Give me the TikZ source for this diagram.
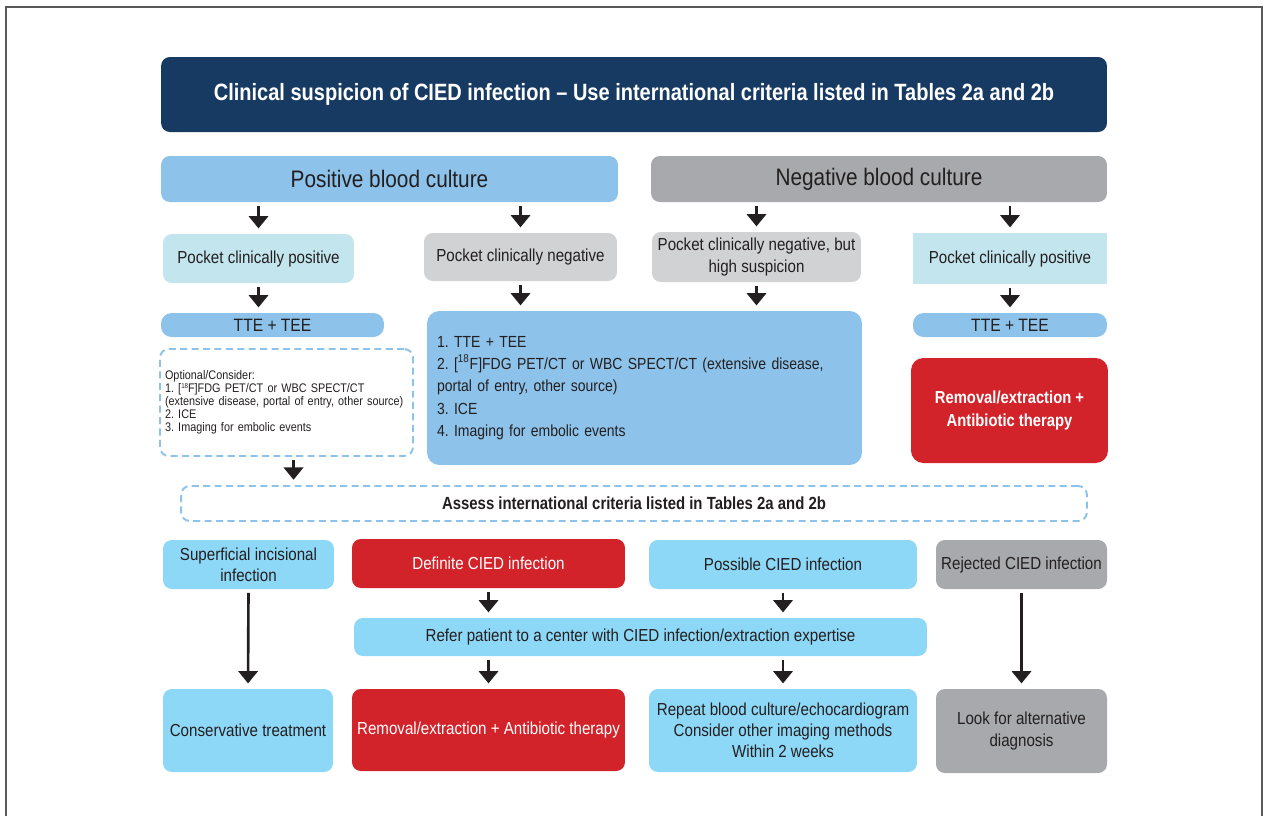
\documentclass[tikz,border=0pt]{standalone}
\usepackage{fontspec}
\setmainfont{Liberation Sans}[FakeStretch=0.87,BoldFeatures={FakeStretch=0.85}]
\usetikzlibrary{arrows.meta,positioning}
\definecolor{navy}{RGB}{23,58,99}
\definecolor{cblue}{RGB}{141,195,234}
\definecolor{cgray}{RGB}{167,169,172}
\definecolor{lcyan}{RGB}{195,230,238}
\definecolor{lgray}{RGB}{209,210,212}
\definecolor{sky}{RGB}{142,216,247}
\definecolor{cred}{RGB}{210,35,42}
\definecolor{ink}{RGB}{35,31,32}
\frenchspacing
\tikzset{box/.style={rectangle,rounded corners=5pt,draw=none,inner sep=2pt,align=center,text=ink,font=\fontsize{9.9}{12}\selectfont},
         title box/.style={box,fill=navy,text=white,font=\bfseries\fontsize{13.4}{15}\selectfont},
         head box/.style={box,font=\fontsize{13.6}{15}\selectfont},
         red box/.style={box,fill=cred,text=white},
         dash box/.style={box,draw=cblue,line width=1.1pt,dash pattern=on 4pt off 2.5pt},
         flow/.style={-{Triangle[width=11pt,length=7pt]},line width=1.5pt,draw=ink,shorten <=2pt,shorten >=3pt}
}
\begin{document}
\begin{tikzpicture}[x=0.02cm,y=-0.02cm]
\useasboundingbox (0,0) rectangle (1267,816);
\draw[gray!70!black,line width=0.6pt] (6,816) -- (6,7) -- (1262,7) -- (1262,816);
% header
\node[title box,minimum width=18.92cm,minimum height=1.5cm] (title) at (634,94.5)
    {\raisebox{-1.5pt}{Clinical suspicion of CIED infection – Use international criteria listed in Tables 2a and 2b}};
\node[head box,fill=cblue,minimum width=9.14cm,minimum height=0.92cm] (pos) at (389.5,179) {Positive blood culture};
\node[head box,fill=cgray,minimum width=9.12cm,minimum height=0.92cm] (neg) at (879,179) {Negative blood culture};
% pocket
\node[box,fill=lcyan,minimum width=3.82cm,minimum height=0.98cm] (pp1) at (258.5,258.5) {Pocket clinically positive};
\node[box,fill=lgray,minimum width=3.86cm,minimum height=0.96cm] (pn1) at (520.5,257) {Pocket clinically negative};
\node[box,fill=lgray,minimum width=4.18cm,minimum height=1cm] (pn2) at (756.5,257) {Pocket clinically negative, but\\high suspicion};
\node[box,fill=lcyan,rounded corners=0pt,minimum width=3.88cm,minimum height=1.02cm] (pp2) at (1010,258.5) {Pocket clinically positive};
% imaging
\node[box,fill=cblue,rounded corners=6pt,minimum width=4.46cm,minimum height=0.48cm,font=\fontsize{10.2}{12}\selectfont] (tte1) at (272.5,325) {TTE + TEE};
\node[box,fill=cblue,rounded corners=6pt,minimum width=3.88cm,minimum height=0.48cm,font=\fontsize{10.2}{12}\selectfont] (tte2) at (1010,325) {TTE + TEE};
\node[box,fill=cblue,rounded corners=7pt,align=left,text width=8.3cm,inner xsep=0.2cm,minimum height=3.08cm,font=\fontsize{9.15}{12.75}\selectfont] (big) at (644.5,388)
    {1. TTE + TEE\\
     2. [\textsuperscript{18}F]FDG PET/CT or WBC SPECT/CT (extensive disease,\\
     portal of entry, other source)\\
     3. ICE\\
     4. Imaging for embolic events};
\node[dash box,align=left,text width=4.86cm,inner xsep=0.1cm,minimum height=2.14cm,font=\fontsize{7.1}{7.4}\selectfont] (opt) at (286.5,402.5)
    {Optional/Consider:\\
     1. [{\fontsize{4}{4}\selectfont\raisebox{2.5pt}{18}}F]FDG PET/CT or WBC SPECT/CT\\
     (extensive disease, portal of entry, other source)\\
     2. ICE\\
     3. Imaging for embolic events};
\node[red box,rounded corners=7pt,minimum width=3.94cm,minimum height=2.1cm,font=\bfseries\fontsize{9.9}{13}\selectfont] (rem1) at (1009.5,410.5) {Removal/extraction +\\Antibiotic therapy};
% assessment
\node[dash box,minimum width=18.12cm,minimum height=0.7cm,font=\bfseries\fontsize{10}{11}\selectfont] (assess) at (634,503.5) {Assess international criteria listed in Tables 2a and 2b};
% outcome
\node[box,fill=sky,minimum width=3.42cm,minimum height=0.98cm] (sup) at (248.5,564.5) {Superficial incisional\\infection};
\node[red box,minimum width=5.46cm,minimum height=0.98cm] (def) at (488.5,563.5) {Definite CIED infection};
\node[box,fill=sky,minimum width=5.36cm,minimum height=0.98cm] (poss) at (783,564.5) {Possible CIED infection};
\node[box,fill=cgray,minimum width=3.42cm,minimum height=0.98cm] (rej) at (1021.5,564.5) {Rejected CIED infection};
\node[box,fill=sky,minimum width=11.46cm,minimum height=0.76cm] (refer) at (640.5,637) {Refer patient to a center with CIED infection/extraction expertise};
% management
\node[box,fill=sky,minimum width=3.4cm,minimum height=1.66cm] (cons) at (248,730.5) {Conservative treatment};
\node[red box,minimum width=5.46cm,minimum height=1.64cm] (rem2) at (488.5,730) {Removal/extraction + Antibiotic therapy};
\node[box,fill=sky,minimum width=5.36cm,minimum height=1.66cm] (rep) at (783,730.5) {Repeat blood culture/echocardiogram\\Consider other imaging methods\\Within 2 weeks};
\node[box,fill=cgray,minimum width=3.42cm,minimum height=1.68cm] (look) at (1021.5,731) {Look for alternative\\diagnosis};
% arrows
\draw[flow] (pos.south -| pp1.north) -- (pp1.north);
\draw[flow] (pos.south -| pn1.north) -- (pn1.north);
\draw[flow] (neg.south -| pn2.north) -- (pn2.north);
\draw[flow] (neg.south -| pp2.north) -- (pp2.north);
\draw[flow] (pp1.south) -- (pp1.south |- tte1.north);
\draw[flow] (pn1.south) -- (pn1.south |- big.north);
\draw[flow] (pn2.south) -- (pn2.south |- big.north);
\draw[flow] (pp2.south) -- (pp2.south |- tte2.north);
\draw[flow] ([xshift=4pt]opt.south) -- ([xshift=4pt]opt.south |- assess.north);
\draw[flow] (def.south) -- (def.south |- refer.north);
\draw[flow] (poss.south) -- (poss.south |- refer.north);
\draw[flow] (refer.south -| rem2.north) -- (rem2.north);
\draw[flow] (refer.south -| rep.north) -- (rep.north);
\draw[flow] (sup.south) -- (cons.north);
\draw[flow] (rej.south) -- (look.north);
\end{tikzpicture}
\end{document}
